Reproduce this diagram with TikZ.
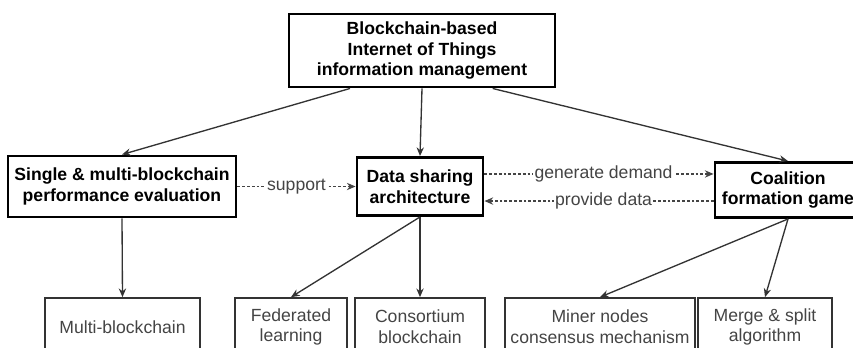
\documentclass[tikz,border=0pt]{standalone}
\usepackage{fontspec}
\setmainfont{Liberation Sans}
\usetikzlibrary{positioning,arrows.meta,calc}
\definecolor{lnk}{HTML}{333333}
\definecolor{subtxt}{HTML}{444444}
\newcommand{\boxfont}{\fontsize{13.2}{15.5}\selectfont}

\tikzset{
  mainbox/.style={draw=black,line width=2.2pt,align=center,font=\boxfont\bfseries,inner sep=2pt},
  subbox/.style={draw=lnk,line width=1.3pt,align=center,text=subtxt,font=\boxfont,minimum height=43.5pt,inner sep=2pt},
  link/.style={draw=lnk,line width=1pt,-{Stealth[length=6.5pt,width=5.5pt]}},
  dlink/.style={link,draw=subtxt,dash pattern=on 2pt off 1.6pt},
  dlabel/.style={fill=white,text=subtxt,inner sep=1pt,font=\boxfont}
}

\begin{document}
\begin{tikzpicture}[x=0.75pt,y=-0.75pt]
\useasboundingbox (0,0) rectangle (853,347);
\clip (0,0) rectangle (853,347);
% top level
\node[mainbox,minimum width=199.5pt,minimum height=54.75pt] (top) at (422,50.5) {Blockchain-based\\Internet of Things\\information management};
% second level
\node[mainbox,minimum width=171pt,minimum height=45.75pt] (single) at (122,186.5) {Single \& multi-blockchain\\performance evaluation};
\node[mainbox,minimum width=94.5pt,minimum height=43.5pt] (data) at (420,186.5) {Data sharing\\architecture};
\node[mainbox,minimum width=109.5pt,minimum height=41.25pt] (coal) at (788,190) {Coalition\\formation game};
% leaves
\node[subbox,minimum width=116.25pt] (multi) at (122.5,327) {Multi-blockchain};
\node[subbox,minimum width=84pt] (fed) at (291,327) {Federated\\learning};
\node[subbox,minimum width=97.5pt] (cons) at (420,327) {Consortium\\blockchain};
\node[subbox,minimum width=142.5pt] (miner) at (600,327) {Miner nodes\\consensus mechanism};
\node[subbox,minimum width=100.5pt] (merge) at (765,327) {Merge \& split\\algorithm};

\draw[link] ([xshift=-54pt]top.south) -- (single.north);
\draw[link] (top.south) -- (data.north);
\draw[link] ([xshift=53pt]top.south) -- (coal.north);
\draw[link] (single.south) -- (multi.north);
\draw[link] (data.south) -- (fed.north);
\draw[link] (data.south) -- (cons.north);
\draw[link] (coal.south) -- (miner.north);
\draw[link] (coal.south) -- (merge.north);

% dashed relations
\draw[dlink] (single.east) -- node[dlabel] {support} (data.west);
\draw[dlink] ([yshift=9.4pt]data.east) -- node[dlabel,pos=0.52] {generate demand} ([yshift=9.4pt]data.east -| coal.west);
\draw[dlink] ([yshift=-10.9pt]data.east -| coal.west) -- node[dlabel,pos=0.48] {provide data} ([yshift=-10.9pt]data.east);
\end{tikzpicture}
\end{document}
